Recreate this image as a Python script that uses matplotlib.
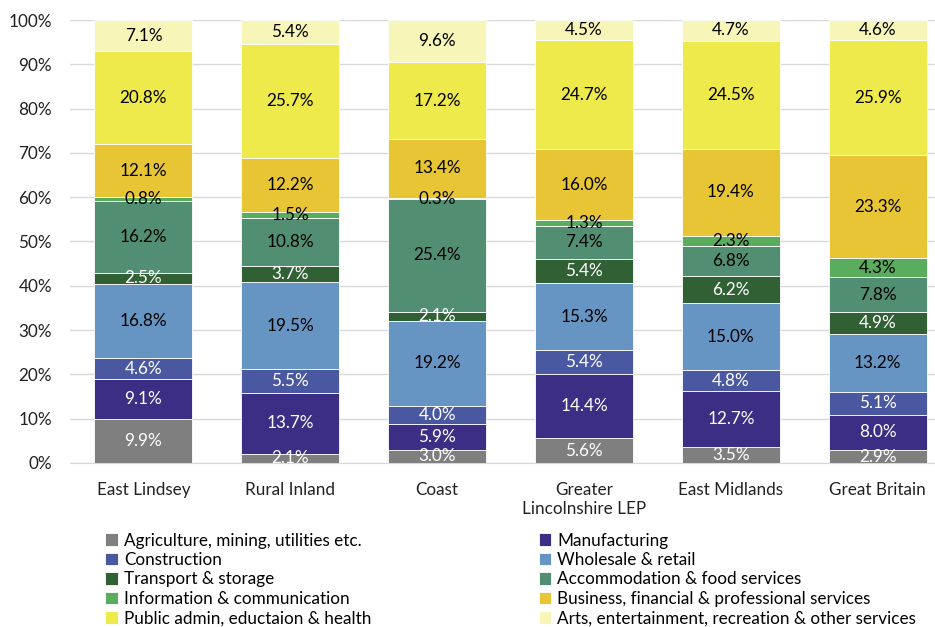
import numpy as np
import matplotlib.pyplot as plt

plt.rcParams['font.family'] = ['Lato', 'DejaVu Sans']

areas = ['East Lindsey', 'Rural Inland', 'Coast', 'Greater\nLincolnshire LEP', 'East Midlands', 'Great Britain']

sectors = ['Agriculture, mining, utilities etc.', 'Manufacturing', 'Construction', 'Wholesale & retail',
           'Transport & storage', 'Accommodation & food services', 'Information & communication',
           'Business, financial & professional services', 'Public admin, eductaion & health',
           'Arts, entertainment, recreation & other services']

# percentages per sector, one value per area
agriculture = [9.9, 2.1, 3.0, 5.6, 3.5, 2.9]
manufacturing = [9.1, 13.7, 5.9, 14.4, 12.7, 8.0]
construction = [4.6, 5.5, 4.0, 5.4, 4.8, 5.1]
wholesale = [16.8, 19.5, 19.2, 15.3, 15.0, 13.2]
transport = [2.5, 3.7, 2.1, 5.4, 6.2, 4.9]
accommodation = [16.2, 10.8, 25.4, 7.4, 6.8, 7.8]
information = [0.8, 1.5, 0.3, 1.3, 2.3, 4.3]
business = [12.1, 12.2, 13.4, 16.0, 19.4, 23.3]
public = [20.8, 25.7, 17.2, 24.7, 24.5, 25.9]
arts = [7.1, 5.4, 9.6, 4.5, 4.7, 4.6]

series = [agriculture, manufacturing, construction, wholesale, transport,
          accommodation, information, business, public, arts]
colours = ['#7f7f7f', '#3b2e84', '#4a58a2', '#6795c3', '#326035',
           '#528e71', '#5bad5e', '#e8c535', '#efea4b', '#f8f5b8']
label_col = ['white', 'white', 'white', 'black', 'white',
             'black', 'black', 'black', 'black', 'black']

data = np.array(series)
shares = data / data.sum(axis=0)  # 100% stacked like Excel

fig = plt.figure(figsize=(9.35, 6.27), dpi=100)
ax = fig.add_axes([0.0749, 0.2616, 0.9251, 0.7065])

x = np.arange(len(areas))
bottom = np.zeros(len(areas))
handles = []
for i in range(len(series)):
    b = ax.bar(x, shares[i], 0.667, bottom=bottom, color=colours[i],
               edgecolor='white', linewidth=0.6, label=sectors[i], zorder=3)
    handles.append(b)
    for j in range(len(areas)):
        ax.text(x[j], bottom[j] + shares[i][j] / 2, '%.1f%%' % series[i][j],
                ha='center', va='center', fontsize=12.3, color=label_col[i],
                zorder=4, clip_on=True)
    bottom += shares[i]

ax.set_ylim(0, 1)
ax.set_xlim(-0.5, 5.39)
ax.set_yticks(np.arange(0, 1.01, 0.1))
ax.set_yticklabels(['%d%%' % v for v in range(0, 101, 10)])
ax.set_xticks(x)
ax.set_xticklabels(areas)
ax.tick_params(axis='both', length=0, labelsize=12.3, colors='#222222')
ax.tick_params(axis='y', pad=13)
ax.tick_params(axis='x', pad=14)
ax.grid(axis='y', color='#d9d9d9', linewidth=1, zorder=0)
for s in ['top', 'right', 'left']:
    ax.spines[s].set_visible(False)
ax.spines['bottom'].set_color('#d9d9d9')

# Excel fills legend row by row, matplotlib column by column
order = [0, 2, 4, 6, 8, 1, 3, 5, 7, 9]
fig.legend([handles[k] for k in order], [sectors[k] for k in order], ncol=2,
           loc='upper left', bbox_to_anchor=(0.105, 0.1615), frameon=False,
           fontsize=12.3, handlelength=0.75, handleheight=0.75, handletextpad=0.35,
           columnspacing=9.8, labelspacing=0.2, borderaxespad=0)

fig.savefig('out.png', dpi=100)
